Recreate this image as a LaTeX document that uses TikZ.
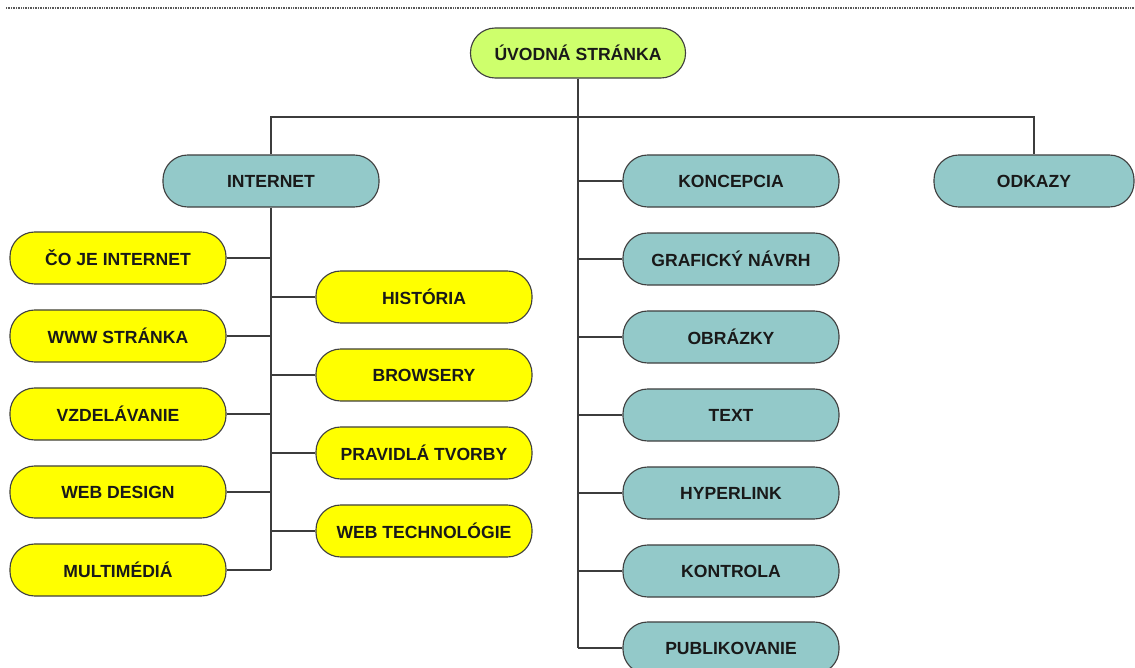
\documentclass[tikz,border=0pt]{standalone}
\usepackage{fontspec}
\setmainfont{Liberation Sans}
\usepackage{xcolor}
\definecolor{lime}{RGB}{206,255,108}
\definecolor{tealbox}{RGB}{147,201,201}
\definecolor{yel}{RGB}{255,255,0}
\definecolor{wire}{RGB}{60,60,60}

\begin{document}
\begin{tikzpicture}[x=0.025cm,y=-0.025cm]
    \tikzstyle{B}=[rectangle,rounded corners=0.62cm,draw=black!75,line width=0.8pt,
        minimum width=5.4cm,minimum height=1.3cm,inner sep=0pt,
        font=\fontsize{12.5}{14}\selectfont\bfseries,text=black!90]
    \tikzstyle{R}=[B,fill=lime,minimum width=5.375cm,minimum height=1.25cm]
    \tikzstyle{T}=[B,fill=tealbox]
    \tikzstyle{Y}=[B,fill=yel]
    \tikzstyle{W}=[draw=wire,line width=0.8pt]

    \useasboundingbox (0,0) rectangle (1135,668);

    % top rule
    \draw [black!65,line width=1.3pt,dash pattern=on 0.7pt off 0.5pt] (6,8) -- (1135,8);

    \node [R] (root) at (578,53) {ÚVODNÁ STRÁNKA};

    \node [T] (internet) at (271,181) {INTERNET};
    \node [T] (odkazy) at (1034,181) [minimum width=5.0cm] {ODKAZY};

    % left column
    \node [Y] (coje)  at (118,258) {ČO JE INTERNET};
    \node [Y] (www)   at (118,336) {WWW STRÁNKA};
    \node [Y] (vzdel) at (118,414) {VZDELÁVANIE};
    \node [Y] (webd)  at (118,492) {WEB DESIGN};
    \node [Y] (multi) at (118,570) {MULTIMÉDIÁ};

    \node [Y] (hist)  at (424,297) {HISTÓRIA};
    \node [Y] (brows) at (424,375) {BROWSERY};
    \node [Y] (prav)  at (424,453) {PRAVIDLÁ TVORBY};
    \node [Y] (webt)  at (424,531) {WEB TECHNOLÓGIE};

    % middle column
    \node [T] (konc) at (731,181) {KONCEPCIA};
    \node [T] (graf) at (731,259) {GRAFICKÝ NÁVRH};
    \node [T] (obr)  at (731,337) {OBRÁZKY};
    \node [T] (text) at (731,415) {TEXT};
    \node [T] (hyp)  at (731,493) {HYPERLINK};
    \node [T] (kontr) at (731,571) {KONTROLA};
    \node [T] (publ) at (731,648) {PUBLIKOVANIE};

    % connectors
    \coordinate (bus) at (578,117);
    \draw [W] (root.south) -- (root.south |- publ.west);
    \draw [W] (internet.north) -- (internet.north |- bus) -| (odkazy.north);

    \draw [W] (internet.south) -- (internet.south |- multi.east);
    \foreach \n in {coje,www,vzdel,webd,multi}
        \draw [W] (\n.east) -- (\n.east -| internet.south);
    \foreach \n in {hist,brows,prav,webt}
        \draw [W] (\n.west) -- (\n.west -| internet.south);

    \foreach \n in {konc,graf,obr,text,hyp,kontr,publ}
        \draw [W] (\n.west) -- (\n.west -| root.south);
\end{tikzpicture}
\end{document}
